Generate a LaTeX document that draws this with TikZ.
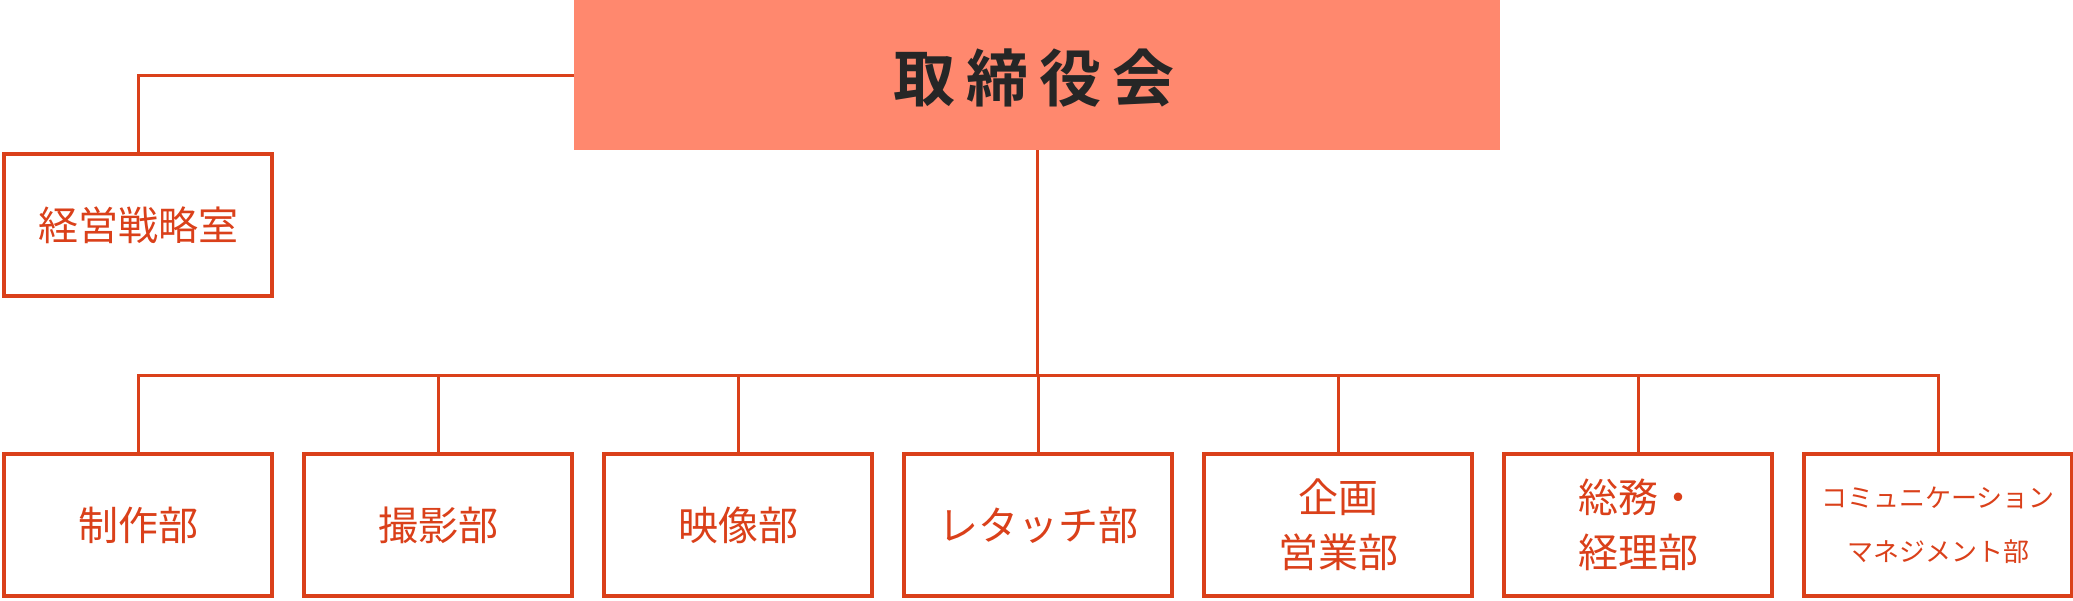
\documentclass[tikz,border=0pt]{standalone}
\usepackage{fontspec}
\setmainfont{Noto Sans CJK JP}
\newfontfamily\jpbold{Noto Sans CJK JP Bold}
\definecolor{lineRed}{HTML}{DA401A}
\definecolor{topFill}{HTML}{FF886E}
\definecolor{darkText}{HTML}{262626}
\tikzset{
  deptbox/.style={draw=lineRed, line width=4pt, minimum width=268pt, minimum height=142pt,
    inner sep=0pt, text=lineRed, align=center, font=\fontsize{40}{55}\selectfont},
  smallbox/.style={deptbox, font=\fontsize{26}{54}\selectfont},
  topbox/.style={fill=topFill, minimum width=926pt, minimum height=150pt, inner sep=0pt,
    text=darkText, font=\jpbold\fontsize{62}{70}\selectfont},
  conn/.style={draw=lineRed, line width=3pt}
}
\begin{document}
\begin{tikzpicture}[x=1pt,y=-1pt]
\useasboundingbox (0,0) rectangle (2073,600);
\node[topbox] (top) at (1037,75) {};
\node[text=darkText, font=\jpbold\fontsize{62}{70}\selectfont, inner sep=0pt] (toptext) at (1034,78) {取\hspace{11pt}締\hspace{11pt}役\hspace{11pt}会};
\node[deptbox] (strat) at (138,225) {経営戦略室};
\coordinate (bus) at (1037,375);
\node[deptbox] (d1) at (138,525) {制作部};
\node[deptbox] (d2) at (438,525) {撮影部};
\node[deptbox] (d3) at (738,525) {映像部};
\node[deptbox] (d4) at (1038,525) {レタッチ部};
\node[deptbox] (d5) at (1338,525) {企画\\営業部};
\node[deptbox] (d6) at (1638,525) {総務・\\経理部};
\node[smallbox] (d7) at (1938,525) {コミュニケーション\\マネジメント部};
\draw[conn] (top.west) -| (strat.north);
\draw[conn] (top.south) -- (bus);
\foreach \n in {d1,d2,d3,d4,d5,d6,d7} {
  \draw[conn] (bus) -| (\n.north);
}
\end{tikzpicture}
\end{document}
